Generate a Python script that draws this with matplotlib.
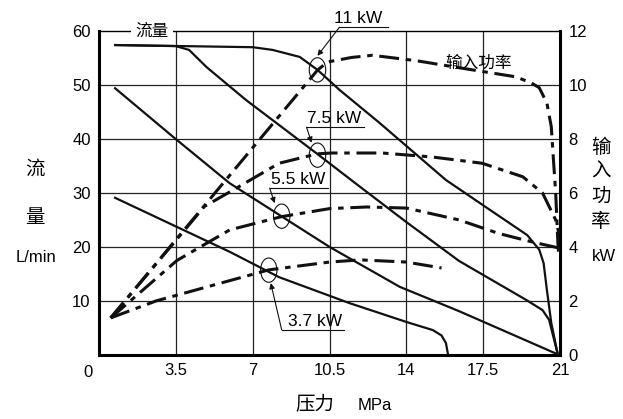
import matplotlib
matplotlib.use('Agg')
import matplotlib.pyplot as plt
from matplotlib.patches import Ellipse

plt.rcParams['font.family'] = ['Liberation Sans', 'Noto Sans CJK SC']

# pressure (MPa) vs flow (L/min), solid lines
f11_x = [0.73, 7.0, 7.9, 9.14, 9.95, 10.95, 12.77, 15.8, 17.9, 19.5, 20.05, 20.25, 20.4, 20.6, 20.9]
f11_q = [57.4, 57.0, 56.5, 55.2, 52.8, 49.1, 43.0, 32.4, 26.6, 22.2, 19.5, 17.0, 12.0, 5.9, 0]
f75_x = [0.73, 3.5, 4.1, 4.9, 6.7, 9.95, 11.9, 14.0, 16.4, 19.45, 20.2, 20.5, 20.9]
f75_q = [57.4, 57.2, 56.5, 53.3, 47.2, 37.2, 31.1, 24.6, 17.4, 10.2, 8.3, 6.5, 0]
f55_x = [0.73, 3.4, 5.95, 8.3, 10.5, 13.7, 16.4, 20.95]
f55_q = [49.4, 40.3, 31.8, 25.7, 20.0, 12.6, 8.1, 0]
f37_x = [0.73, 5.95, 8.2, 11.4, 14.0, 15.2, 15.6, 15.8, 15.9]
f37_q = [29.1, 19.1, 14.4, 9.6, 6.1, 4.6, 3.6, 2.2, 0]

# pressure vs input power (kW), dash-dot lines
p11_x = [0.53, 9.95, 10.4, 11.5, 12.45, 14.45, 16.7, 19.0, 19.7, 20.05, 20.4, 20.6, 20.7, 20.8, 20.9, 20.95]
p11_kw = [1.37, 10.55, 10.85, 11.02, 11.1, 10.9, 10.6, 10.3, 10.07, 9.9, 9.33, 8.45, 7.2, 6.0, 4.15, 3.6]
p75_x = [0.53, 4.8, 6.3, 8.2, 9.95, 10.6, 12.9, 15.2, 17.45, 19.3, 20.2, 20.5, 20.8, 20.95]
p75_kw = [1.37, 5.5, 6.2, 7.1, 7.45, 7.48, 7.48, 7.33, 7.1, 6.6, 6.0, 5.5, 5.0, 4.5]
p55_x = [0.53, 3.55, 5.95, 8.3, 10.5, 12.2, 14.0, 16.4, 18.2, 19.7, 20.95]
p55_kw = [1.37, 3.5, 4.63, 5.12, 5.42, 5.48, 5.44, 5.0, 4.5, 4.19, 3.96]
p37_x = [0.53, 2.6, 7.73, 10.5, 11.9, 14.0, 15.6]
p37_kw = [1.37, 2.0, 3.15, 3.44, 3.52, 3.44, 3.22]

# rated motor points (circled)
mark_x = [9.95, 9.95, 8.32, 7.73]
mark_q = [52.8, 37.0, 25.7, 15.7]
motor_labels = ['11 kW', '7.5 kW', '5.5 kW', '3.7 kW']

x_ticks = [3.5, 7, 10.5, 14, 17.5, 21]
x_ticklabels = ['3.5', '7', '10.5', '14', '17.5', '21']
q_ticks = [10, 20, 30, 40, 50, 60]
kw_ticks = [0, 2, 4, 6, 8, 10, 12]

fig = plt.figure(figsize=(6.23, 4.19), dpi=100)
ax = fig.add_axes([0.159, 0.153, 0.740, 0.773])
ax.set_xlim(0, 21)
ax.set_ylim(0, 60)

for xv in x_ticks[:-1]:
    ax.axvline(xv, color='#222222', lw=0.9, zorder=1)
for yv in q_ticks[:-1]:
    ax.axhline(yv, color='#222222', lw=0.9, zorder=1)

for xs, ys in [(f11_x, f11_q), (f75_x, f75_q), (f55_x, f55_q), (f37_x, f37_q)]:
    ax.plot(xs, ys, color='#111111', lw=1.6, solid_joinstyle='round', zorder=3)

ax.set_xticks(x_ticks)
ax.set_xticklabels(x_ticklabels, fontsize=12)
ax.set_yticks(q_ticks)
ax.set_yticklabels([str(v) for v in q_ticks], fontsize=12)
ax.tick_params(length=0, pad=6)
for s in ['left', 'bottom']:
    ax.spines[s].set_linewidth(2.2)
ax.spines['top'].set_linewidth(1.0)
ax.spines['right'].set_visible(False)

for mx, mq in zip(mark_x, mark_q):
    ax.add_patch(Ellipse((mx, mq), 0.75, 4.5, fill=False, ec='#111111', lw=0.8, zorder=5))

ax2 = ax.twinx()
ax2.set_ylim(0, 12)
for xs, ys in [(p11_x, p11_kw), (p75_x, p75_kw), (p55_x, p55_kw), (p37_x, p37_kw)]:
    ax2.plot(xs, ys, color='#111111', lw=2.2, dashes=[6.5, 2.2, 1.8, 2.2], zorder=3)
ax2.set_yticks(kw_ticks)
ax2.set_yticklabels([str(v) for v in kw_ticks], fontsize=12)
ax2.tick_params(length=0, pad=6)
ax2.spines['right'].set_linewidth(2.2)
for s in ['left', 'top', 'bottom']:
    ax2.spines[s].set_visible(False)

# label sitting on the top frame
ax2.text(2.42, 12, '流量', ha='center', va='center', fontsize=12, zorder=10,
         bbox=dict(fc='white', ec='none', pad=3))
ax2.text(17.3, 10.8, '输入功率', ha='center', va='center', fontsize=12)

# motor labels with underline and leader arrow
lab = [
    (11.8, 60.9, 10.95, 13.14, 9.95, 55.4),
    (10.73, 42.4, 9.45, 12.09, 9.68, 39.3),
    (9.09, 31.1, 7.77, 10.41, 8.0, 28.1),
    (9.82, 4.83, 8.32, 11.18, 7.82, 13.3),
]
for name, (tx, ty, u0, u1, ex, ey) in zip(motor_labels, lab):
    ax.text(tx, ty, name, ha='center', va='bottom', fontsize=12.5, zorder=6, clip_on=False)
    ax.plot([u0, u1], [ty - 0.2, ty - 0.2], color='#111111', lw=0.8, clip_on=False, zorder=6)
    ax.annotate('', xy=(ex, ey), xytext=(u0, ty - 0.2), annotation_clip=False,
                arrowprops=dict(arrowstyle='-|>', lw=0.8, color='#111111',
                                mutation_scale=8, shrinkA=0, shrinkB=0))

W, H = 623, 419
fig.text(88 / W, 1 - 372 / H, '0', ha='center', va='center', fontsize=12)
fig.text(35 / W, 1 - 170 / H, '流', ha='center', va='center', fontsize=14)
fig.text(35 / W, 1 - 218 / H, '量', ha='center', va='center', fontsize=14)
fig.text(36 / W, 1 - 258 / H, 'L/min', ha='center', va='center', fontsize=12)
for ch, py in zip(['输', '入', '功', '率'], [148, 172, 197, 222]):
    fig.text(601 / W, 1 - py / H, ch, ha='center', va='center', fontsize=14)
fig.text(604 / W, 1 - 256 / H, 'kW', ha='center', va='center', fontsize=12)
fig.text(315 / W, 1 - 405 / H, '压力', ha='center', va='center', fontsize=14)
fig.text(375 / W, 1 - 405 / H, 'MPa', ha='center', va='center', fontsize=12)

fig.savefig('out.png', dpi=100)
